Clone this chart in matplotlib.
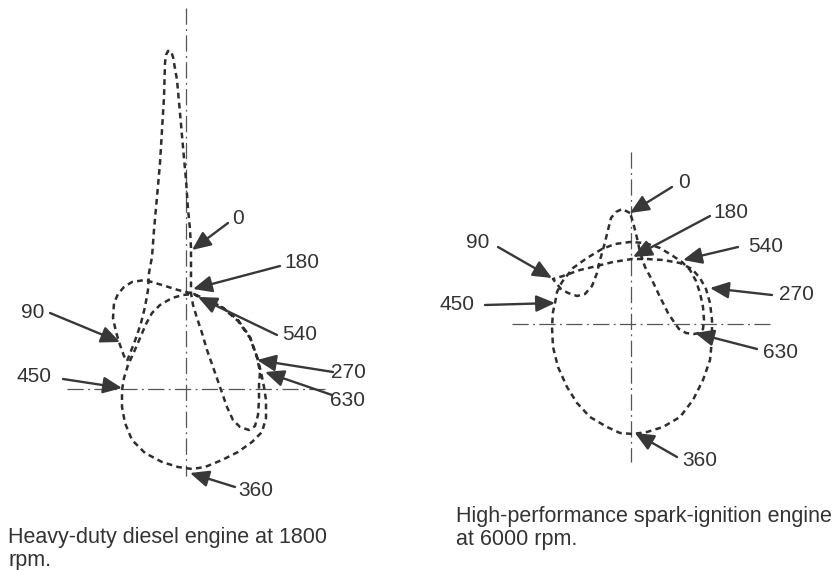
import matplotlib
matplotlib.use('Agg')
import matplotlib.pyplot as plt

# bearing load polar diagrams, load components in pixel-sized units,
# origin at the crossing of the centre lines, y pointing up

# heavy-duty diesel, 0..720 deg crank angle
diesel_x = [5, 4, 2, 0, -3, -6, -9, -13, -15, -18, -20, -21, -22, -24, -26, -29,
            -32, -34, -37, -38, -41, -45, -50, -55, -59,
            -62, -66, -70, -73, -72, -68, -62, -54, -41, -24, -8, 4,
            10, 22, 36, 52, 64, 71, 75, 78, 80, 80, 76, 66, 52, 36, 19, 6,
            -8, -24, -41, -54, -61, -64, -64,
            -62, -58, -52, -46, -40, -34, -26, -14, -3, 8,
            11, 23, 37, 52, 64, 71, 74,
            73, 73, 72, 69, 63, 54, 47, 41, 34, 27, 21, 16, 11, 7, 5, 5, 5]
diesel_y = [141, 160, 180, 209, 242, 276, 309, 332, 338, 338, 334, 326, 292, 259, 226, 192,
            159, 132, 116, 99, 82, 66, 51, 38, 28,
            33, 44, 57, 71, 86, 95, 102, 107, 109, 104, 99, 96,
            94, 89, 82, 69, 52, 32, 17, 2, -11, -29, -43, -53, -63, -71, -78, -80,
            -78, -73, -64, -51, -34, -18, -1,
            11, 24, 37, 51, 65, 76, 84, 91, 94, 95,
            93, 88, 81, 68, 51, 32, 17,
            4, -11, -26, -37, -41, -38, -31, -18, 2, 22, 39, 56, 71, 84, 96, 119, 141]

# high-performance spark-ignition engine, 0..720 deg crank angle
si_x = [-1, -9, -15, -20, -23, -27, -31, -34, -39, -46, -54, -63, -70, -75, -78,
        -68, -51, -34, -18, 1, 16, 32, 49, 61, 69, 75, 79, 81, 81, 79, 72, 62, 49,
        32, 16, 2, -11, -24, -41, -54, -64, -73, -78, -79, -78, -76,
        -74, -69, -58, -44, -29, -16, -1, 14, 29, 42, 51, 59, 65, 69, 72, 73, 72,
        68, 63, 55, 48, 43, 37, 29, 21, 14, 9, 6, 2, -1]
si_y = [111, 115, 112, 106, 94, 78, 64, 51, 38, 30, 28, 31, 35, 41, 45,
        48, 54, 58, 62, 65, 65, 64, 61, 55, 46, 35, 21, 4, -16, -36, -56, -76, -93,
        -103, -108, -110, -109, -103, -93, -79, -63, -43, -23, -3, 12, 21,
        32, 42, 56, 66, 75, 80, 82, 81, 76, 68, 62, 54, 43, 31, 17, 4, -5,
        -9, -10, -9, -5, 2, 11, 27, 44, 57, 72, 86, 102, 111]

# crank angle labels: text position, arrow tail, arrow tip
angle_labels = ['0', '180', '540', '270', '630', '360', '90', '450']
diesel_text = [(52, 171), (116, 127), (114, 54), (162, 17), (161, -12), (70, -101), (-153, 77), (-152, 12)]
diesel_tail = [(42, 166), (94, 123), (91, 54), (147, 17), (146, -6), (49, -98), (-136, 76), (-123, 10)]
diesel_tip = [(6, 139), (7, 100), (12, 92), (71, 29), (79, 17), (4, -84), (-66, 47), (-64, 1)]

si_text = [(53, 141), (100, 112), (135, 77), (165, 29), (150, -29), (69, -136), (-153, 82), (-174, 19)]
si_tail = [(41, 137), (79, 108), (107, 77), (141, 29), (126, -25), (46, -133), (-133, 77), (-146, 19)]
si_tip = [(-1, 111), (2, 67), (52, 64), (79, 36), (64, -9), (4, -109), (-79, 46), (-76, 21)]

diesel_caption = 'Heavy-duty diesel engine at 1800\nrpm.'
si_caption = 'High-performance spark-ignition engine\nat 6000 rpm.'

plt.rcParams['font.family'] = ['Liberation Sans', 'DejaVu Sans']

fig = plt.figure(figsize=(8.39, 5.70), dpi=100)
fig.patch.set_facecolor('white')

ax1 = fig.add_axes([0, 0, 420 / 839, 1])
ax1.set_xlim(-186, 234)
ax1.set_ylim(-181, 389)
ax2 = fig.add_axes([420 / 839, 0, 419 / 839, 1])
ax2.set_xlim(-211, 208)
ax2.set_ylim(-246, 324)

centre_style = dict(color='#555555', lw=0.9, linestyle=(0, (13, 3.5, 1.5, 3.5)))
curve_style = dict(color='#2e2e2e', lw=1.8, linestyle=(0, (2.3, 1.7)),
                   solid_capstyle='butt', dash_capstyle='butt')
text_color = '#333333'


def draw_diagram(ax, xs, ys, vline, hline, texts, tails, tips, caption, cap_xy):
    ax.set_axis_off()
    ax.plot([0, 0], vline, **centre_style)
    ax.plot(hline, [0, 0], **centre_style)
    ax.plot(xs, ys, **curve_style)
    for lab, txy, tail, tip in zip(angle_labels, texts, tails, tips):
        ax.annotate('', xy=tip, xytext=tail,
                    arrowprops=dict(arrowstyle='-|>,head_length=0.95,head_width=0.42',
                                    color='#383838', lw=1.7, mutation_scale=12,
                                    shrinkA=0, shrinkB=0))
        ax.text(txy[0], txy[1], lab, fontsize=15, color=text_color,
                ha='center', va='center')
    ax.text(cap_xy[0], cap_xy[1], caption, fontsize=15.5, color=text_color,
            ha='left', va='center', linespacing=1.1, clip_on=False)


draw_diagram(ax1, diesel_x, diesel_y, (381, -87), (-119, 139),
             diesel_text, diesel_tail, diesel_tip, diesel_caption, (-178, -160))
draw_diagram(ax2, si_x, si_y, (172, -138), (-119, 139),
             si_text, si_tail, si_tip, si_caption, (-175, -204))

fig.savefig('out.png', dpi=100, facecolor='white')
